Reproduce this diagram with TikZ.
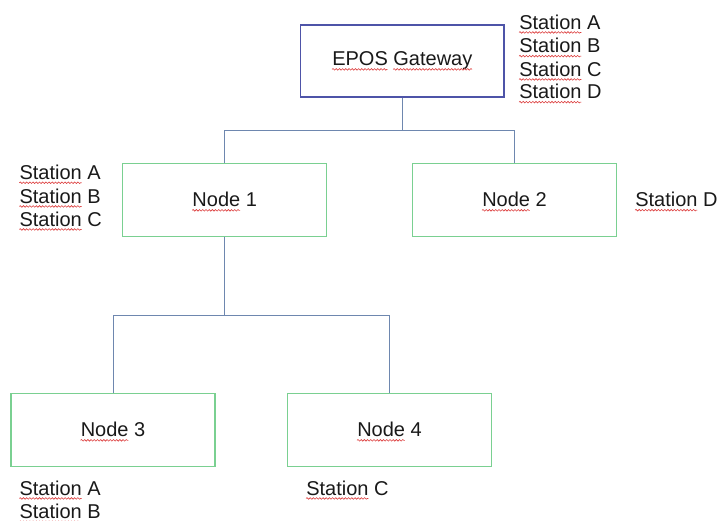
\documentclass[tikz,border=0pt]{standalone}
\usepackage{fontspec}
\setmainfont{Liberation Sans}
\usetikzlibrary{decorations.pathmorphing}
\definecolor{gwblue}{RGB}{78,84,168}
\definecolor{boxgreen}{RGB}{122,208,145}
\definecolor{wire}{RGB}{110,135,175}
\definecolor{spell}{RGB}{220,60,60}
\newcommand\labelfont{\fontsize{15}{18}\selectfont}
\newlength\wStation
\newlength\wNode
\newlength\wEPOS
\newlength\wGateway
\newlength\wEPOSsp
% word widths, measured once the fonts are ready
\AtBeginDocument{%
  \settowidth\wStation{\labelfont Station}%
  \settowidth\wNode{\labelfont Node}%
  \settowidth\wEPOS{\labelfont EPOS}%
  \settowidth\wGateway{\labelfont Gateway}%
  \settowidth\wEPOSsp{\labelfont EPOS\ }}
% red wavy spell-check underline, starting #1 into node #2, #3 long
\newcommand\squig[3][0pt]{%
  \path[spellline] ([xshift=#1,yshift=-2.6pt]#2.base west) -- ++(#3,0pt);}
\tikzset{
  every node/.style={font=\labelfont, text=black!90},
  gwbox/.style={draw=gwblue, line width=0.8pt, inner sep=0pt,
                minimum width=152.5pt, minimum height=54pt},
  unitbox/.style={draw=boxgreen, line width=0.8pt, inner sep=0pt,
                  minimum width=153pt, minimum height=54.75pt},
  boxtext/.style={inner sep=0pt},
  lbl/.style={anchor=base west, inner sep=0pt},
  link/.style={draw=wire, line width=0.75pt},
  spellline/.style={draw=spell, line width=0.45pt,
    decorate, decoration={snake, segment length=2.4pt, amplitude=0.6pt,
    pre length=0pt, post length=0pt}}
}
\begin{document}
\begin{tikzpicture}[x=0.75pt, y=-0.75pt]
\useasboundingbox (0,0) rectangle (721,521);

% boxes
\node[gwbox]   (gw) at (402.3,61)    {};
\node[unitbox] (n1) at (224.7,199.7) {};
\node[unitbox] (n2) at (514.5,199.7) {};
\node[unitbox] (n3) at (113,429.7)   {};
\node[unitbox] (n4) at (389.5,429.7) {};

% box captions
\node[boxtext] (tgw) at (gw) {EPOS Gateway};
\node[boxtext] (t1) at (n1) {Node 1};
\node[boxtext] (t2) at (n2) {Node 2};
\node[boxtext] (t3) at (n3) {Node 3};
\node[boxtext] (t4) at (n4) {Node 4};

% junction points of the tree
\coordinate (j1) at (402.3,130);
\coordinate (j2) at (224.7,315);

\draw[link] (gw.south) -- (j1);
\draw[link] (j1) -| (n1.north);
\draw[link] (j1) -| (n2.north);
\draw[link] (n1.south) -- (j2);
\draw[link] (j2) -| (n3.north);
\draw[link] (j2) -| (n4.north);

% station lists
\node[lbl] (gA) at (519,29)   {Station A};
\node[lbl] (gB) at (519,52.7) {Station B};
\node[lbl] (gC) at (519,76)   {Station C};
\node[lbl] (gD) at (519,98.7) {Station D};

\node[lbl] (aA) at (19.3,179.3) {Station A};
\node[lbl] (aB) at (19.3,203)   {Station B};
\node[lbl] (aC) at (19.3,226)   {Station C};

\node[lbl] (bD) at (635,206.7) {Station D};

\node[lbl] (cA) at (19.3,495)   {Station A};
\node[lbl] (cB) at (19.3,518.3) {Station B};

\node[lbl] (dC) at (306,495) {Station C};

% spell-check marks
\squig{tgw}{\wEPOS}
\squig[\wEPOSsp]{tgw}{\wGateway}
\squig{t1}{\wNode}
\squig{t2}{\wNode}
\squig{t3}{\wNode}
\squig{t4}{\wNode}
\squig{gA}{\wStation}
\squig{gB}{\wStation}
\squig{gC}{\wStation}
\squig{gD}{\wStation}
\squig{aA}{\wStation}
\squig{aB}{\wStation}
\squig{aC}{\wStation}
\squig{bD}{\wStation}
\squig{cA}{\wStation}
\squig{cB}{\wStation}
\squig{dC}{\wStation}
\end{tikzpicture}
\end{document}
